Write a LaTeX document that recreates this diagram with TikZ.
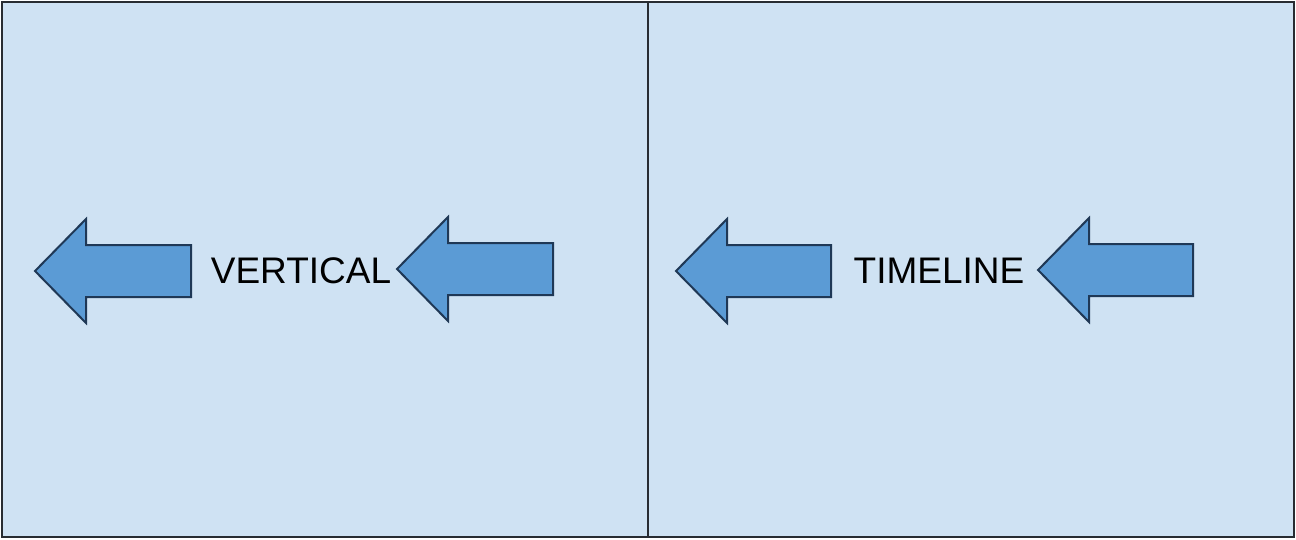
\documentclass[tikz,border=0pt]{standalone}
\usepackage{fontspec}
\setmainfont{Liberation Sans}

\newlength{\du}
\setlength{\du}{1pt}

\definecolor{panelfill}{RGB}{207,226,243}
\definecolor{panelline}{RGB}{40,44,50}
\definecolor{arrowfill}{RGB}{91,155,213}
\definecolor{arrowline}{RGB}{31,56,86}

\tikzset{
  panel/.style={draw=panelline, fill=panelfill, line width=2\du},
  blockarrow/.style={draw=arrowline, fill=arrowfill, line width=2\du, line join=miter},
  paneltext/.style={inner sep=0pt, font=\fontsize{37}{40}\selectfont}
}

% left pointing block arrow: tip x, mid y, tail x
\newcommand{\leftarrowat}[3]{
\draw[blockarrow] (#1\du,#2\du)--(#1\du+51\du,#2\du-52\du)--(#1\du+51\du,#2\du-26\du)
  --(#3\du,#2\du-26\du)--(#3\du,#2\du+26\du)--(#1\du+51\du,#2\du+26\du)
  --(#1\du+51\du,#2\du+52\du)--cycle;
}

\begin{document}
\begin{tikzpicture}
\pgftransformxscale{1.000000}
\pgftransformyscale{-1.000000}
\useasboundingbox (0\du,0\du) rectangle (1296\du,539\du);
% panels
\draw[panel] (2\du,2\du) rectangle (648\du,537\du);
\draw[panel] (648\du,2\du) rectangle (1294\du,537\du);
% arrows
\leftarrowat{35}{271}{191}
\leftarrowat{397}{269}{553}
\leftarrowat{676}{271}{831}
\leftarrowat{1038}{270}{1193}
% texts
\node[paneltext] (vertical) at (301\du,271\du) {VERTICAL};
\node[paneltext] (timeline) at (939\du,271\du) {TIMELINE};
\end{tikzpicture}
\end{document}
